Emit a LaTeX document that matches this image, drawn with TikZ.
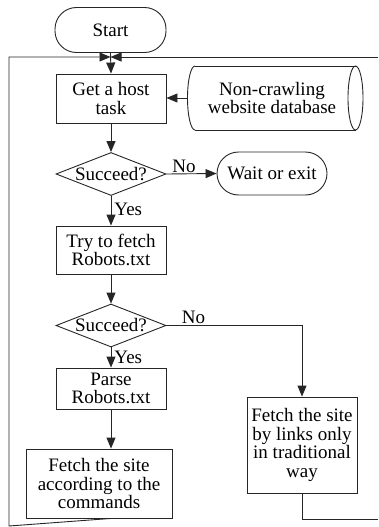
\documentclass[tikz,border=0pt]{standalone}
\usepackage{fontspec}
\setmainfont{Liberation Serif}
\usetikzlibrary{arrows.meta,shapes.geometric}
\begin{document}
\begin{tikzpicture}[x=1pt,y=-1pt,
  every node/.style={font=\fontsize{19}{18.5}\selectfont, align=center, inner sep=0pt},
  ln/.style={draw=black!85, line width=0.9pt},
  arr/.style={ln, -{Triangle[length=11pt,width=9pt]}},
  proc/.style={draw=black!85, line width=0.9pt, rectangle},
  term/.style={draw=black!85, line width=0.9pt, rectangle, rounded corners=21.5pt},
  dec/.style={draw=black!85, line width=0.9pt, diamond, shape aspect=2.56, minimum width=110pt, minimum height=43pt},
  lab/.style={font=\fontsize{19}{18.5}\selectfont}
]
\useasboundingbox (0,0) rectangle (378,527);
\node[term, minimum width=111pt, minimum height=45pt] (start) at (110.5,30) {Start};
\node[proc, minimum width=110pt, minimum height=49pt] (get) at (111,98.5) {Get a host\\task};
% database (horizontal cylinder)
\node (db) at (272,98) {Non-crawling\\website database};
\draw[ln] (195,66) -- (355.5,66) (195,130) -- (355.5,130);
\draw[ln] (195,66) arc[start angle=90, end angle=270, x radius=7.5, y radius=-32];
\draw[ln] (355.5,98) ellipse[x radius=7.5, y radius=32];
\coordinate (dbw) at (187.5,98);
\node[dec] (d1) at (111,174) {Succeed?};
\node[term, minimum width=110pt, minimum height=43pt] (wait) at (272,173.5) {Wait or exit};
\node[proc, minimum width=110pt, minimum height=48pt] (try) at (111,250) {Try to fetch\\Robots.txt};
\node[dec] (d2) at (111,325.5) {Succeed?};
\node[proc, minimum width=110pt, minimum height=41pt] (parse) at (111,388.5) {Parse\\Robots.txt};
\node[proc, minimum width=146pt, minimum height=69pt] (fa) at (99,483.5) {Fetch the site\\according to the\\commands};
\node[proc, minimum width=110pt, minimum height=96pt] (fb) at (302,445) {Fetch the site\\by links only\\in traditional\\way};
\coordinate (meet) at (110.5,57);
\coordinate (tl) at (9,57);
\coordinate (tr) at (378,57);
\coordinate (bl) at (9,526);
\coordinate (br) at (378,519);
% connectors
\draw[arr] (start.south) -- (get.north);
\draw[arr] (fa.south -| parse.south) -- (fa.south -| parse.south |- bl) -- (bl) -- (tl) -- (meet);
\draw[arr] (tr) -- (meet);
\draw[ln] (fb.south) |- (br);
\draw[arr] (dbw) -- (dbw -| get.east);
\draw[arr] (get.south) -- (d1.north);
\draw[arr] (d1.east) -- (wait.west) node[lab, pos=0.35, above=1pt] {No};
\draw[arr] (d1.south) -- (try.north) node[lab, pos=0.45, right=3pt] {Yes};
\draw[arr] (try.south) -- (d2.north);
\draw[arr] (d2.south) -- (parse.north) node[lab, pos=0.5, right=3pt] {Yes};
\draw[arr] (d2.east) -| (fb.north) node[lab, pos=0.1, above=1pt] {No};
\draw[arr] (parse.south) -- (parse.south |- fa.north);
\end{tikzpicture}
\end{document}
